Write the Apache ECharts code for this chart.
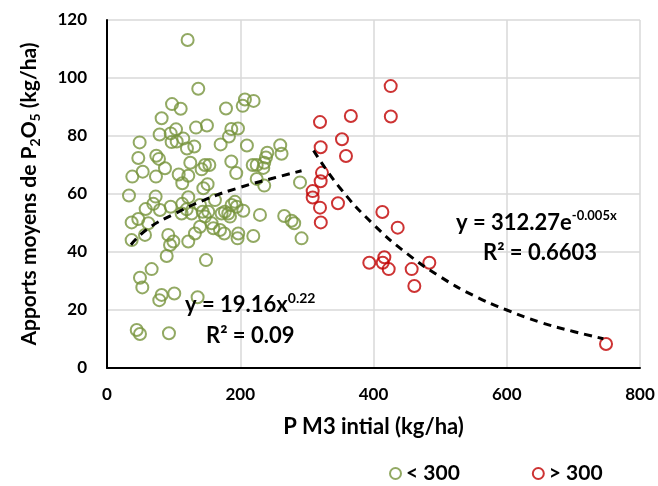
<!DOCTYPE html>
<html><head><meta charset="utf-8">
<script src="https://cdn.jsdelivr.net/npm/echarts@6/dist/echarts.min.js"></script>
<style>html,body{margin:0;padding:0;background:#fff}#c{width:658px;height:486px}</style>
</head><body><div id="c"></div>
<script>
// Green series (< 300)
const greenX = [121,137,97.6,110.6,82,133.6,150,79,95.6,103.6,114.5,97,104.6,120,131,49,47,74,78,87,125,53.6,38,73.5,107.6,122,113,142,147,153.6,151,144.6,178.6,203.7,207,220,186.6,196.6,183,170.6,210,260,262,240.6,238.6,236,234.6,218.7,224.7,186.6,194,224.7,236,289.7,33,73,69.5,58,47,37,62,79.5,95.6,113,122,112,127,119.6,143.6,152,147,157,139.6,132,122,57,37,92,99.6,94.6,89.6,148.6,67,49.5,53,82,78.5,101,136,44.6,49.5,93,162,172,182,187,192,194.6,204.6,169.6,176,197,196,219.6,229.6,266,277,281,292,139.6,184.6,177,159.6];
const greenY = [113.1,96.3,91,89.4,86.1,82.9,83.6,80.5,80.9,82.3,79.1,77.9,78.1,75.7,76.4,77.8,72.4,73.2,72.1,68.9,70.8,67.7,66,66,66.7,66.3,63.7,68.5,70,70,63.4,62,89.5,90.4,92.6,92.1,82.4,82.6,79.8,77.1,76.7,76.8,73.9,74.2,72.6,70.8,69,70,70,71.2,67.2,65.2,62.9,64,59.5,59.1,56.6,54.8,51.4,50.2,49.9,54.5,55.6,56.6,58.9,53.3,53.3,54.7,53.9,53.9,52.2,49.9,48.7,46.4,43.6,45.9,44.1,45.9,43.6,42.4,38.6,37.2,34.1,31.1,27.8,25.2,23.4,25.7,24.4,13.1,11.7,12,57.9,53.3,53.3,56.2,57.3,55.6,54.2,47.6,46.4,46.4,44.7,45.5,52.8,52.4,50.8,49.9,44.7,56.2,52.2,53.9,48.2];
// Red series (> 300)
const redX = [425.8,426,366,319.7,352.7,320.7,358.7,322.7,320.7,308.7,308.7,319.7,346.7,320.9,413.3,436.3,393.7,416.3,413.8,422.8,457.3,483.8,461.3,749];
const redY = [97.2,86.7,86.9,84.8,78.9,76.1,73.1,67.3,64.4,61,58.8,55.3,56.8,50.2,53.8,48.4,36.3,38.2,36.3,34.1,34.1,36.3,28.3,8.3];
// Trend lines
const powX = [36,60,100,150,200,250,292];
const powY = [42.5,47.8,53,58.3,62.3,65.5,68];
const expX = [310,350,400,450,500,550,600,650,700,745];
const expY = [75,62,49.5,39.5,31.5,25,20,15.8,12.6,10.1];
const xTicks = {min:0, max:800, interval:200};
const yTicks = {min:0, max:120, interval:20};
const seriesNames = ['< 300','> 300'];

const F = 'Lato, "Open Sans", sans-serif';
const GREEN = '#77933C', RED = '#C00000';
const zip = (a,b)=>a.map((v,i)=>[v,b[i]]);

const chart = echarts.init(document.getElementById('c'), null, {renderer:'canvas'});
chart.setOption({
  animation:false,
  backgroundColor:'#fff',
  grid:{left:107, top:20, width:533, height:348, containLabel:false},
  xAxis:{type:'value', min:xTicks.min, max:xTicks.max, interval:xTicks.interval,
    name:'P M3 intial (kg/ha)', nameLocation:'middle', nameGap:48,
    nameTextStyle:{fontFamily:F, fontWeight:'bold', fontSize:22, color:'#000'},
    axisLine:{show:true, lineStyle:{color:'#000', width:2}},
    axisTick:{show:false},
    axisLabel:{fontFamily:F, fontWeight:'bold', fontSize:17, color:'#000', margin:18},
    splitLine:{show:true, lineStyle:{color:'#d9d9d9', width:1.5}}},
  yAxis:{type:'value', min:yTicks.min, max:yTicks.max, interval:yTicks.interval,
    name:'{a|Apports moyens de P}{b|2}{a|O}{b|5}{a| (kg/ha)}', nameLocation:'middle', nameGap:65,
    nameTextStyle:{rich:{
      a:{fontFamily:F, fontWeight:'bold', fontSize:21, color:'#000', lineHeight:26, verticalAlign:'middle'},
      b:{fontFamily:F, fontWeight:'bold', fontSize:14, color:'#000', lineHeight:26, verticalAlign:'bottom'}}},
    axisLine:{show:true, lineStyle:{color:'#000', width:2}},
    axisTick:{show:false},
    axisLabel:{fontFamily:F, fontWeight:'bold', fontSize:17, color:'#000', margin:20},
    splitLine:{show:true, lineStyle:{color:'#d9d9d9', width:1.5}}},
  legend:{data:seriesNames, left:384, top:458, itemGap:72, itemWidth:11, itemHeight:11,
    textStyle:{fontFamily:F, fontWeight:'bold', fontSize:21, color:'#000'}},
  series:[
    {name:seriesNames[0], type:'scatter', data:zip(greenX,greenY), symbol:'circle', symbolSize:12,
      itemStyle:{color:'rgba(255,255,255,0)', borderColor:GREEN, borderWidth:2}, z:3},
    {name:seriesNames[1], type:'scatter', data:zip(redX,redY), symbol:'circle', symbolSize:12,
      itemStyle:{color:'rgba(255,255,255,0)', borderColor:RED, borderWidth:2}, z:3},
    {name:'pow', type:'line', data:zip(powX,powY), smooth:true, showSymbol:false, symbol:'none',
      lineStyle:{color:'#000', width:3, type:[8,6]}, z:4},
    {name:'exp', type:'line', data:zip(expX,expY), smooth:true, showSymbol:false, symbol:'none',
      lineStyle:{color:'#000', width:3, type:[8,6]}, z:4}
  ],
  graphic:[
    {type:'text', left:185, top:291, z:10, style:{text:'{a|y = 19.16x}{s|0.22}',
      rich:{a:{fontFamily:F, fontWeight:'bold', fontSize:22, fill:'#000', lineHeight:28, verticalAlign:'middle'},
            s:{fontFamily:F, fontWeight:'bold', fontSize:14, fill:'#000', lineHeight:28, verticalAlign:'top'}}}},
    {type:'text', left:206, top:325, z:10, style:{text:'R² = 0.09', fontFamily:F, fontWeight:'bold', fontSize:22, fill:'#000'}},
    {type:'text', left:456, top:209, z:10, style:{text:'{a|y = 312.27e}{s|-0.005x}',
      rich:{a:{fontFamily:F, fontWeight:'bold', fontSize:22, fill:'#000', lineHeight:28, verticalAlign:'middle'},
            s:{fontFamily:F, fontWeight:'bold', fontSize:13, fill:'#000', lineHeight:28, verticalAlign:'top'}}}},
    {type:'text', left:483, top:242, z:10, style:{text:'R² = 0.6603', fontFamily:F, fontWeight:'bold', fontSize:22, fill:'#000'}}
  ]
});
</script></body></html>
